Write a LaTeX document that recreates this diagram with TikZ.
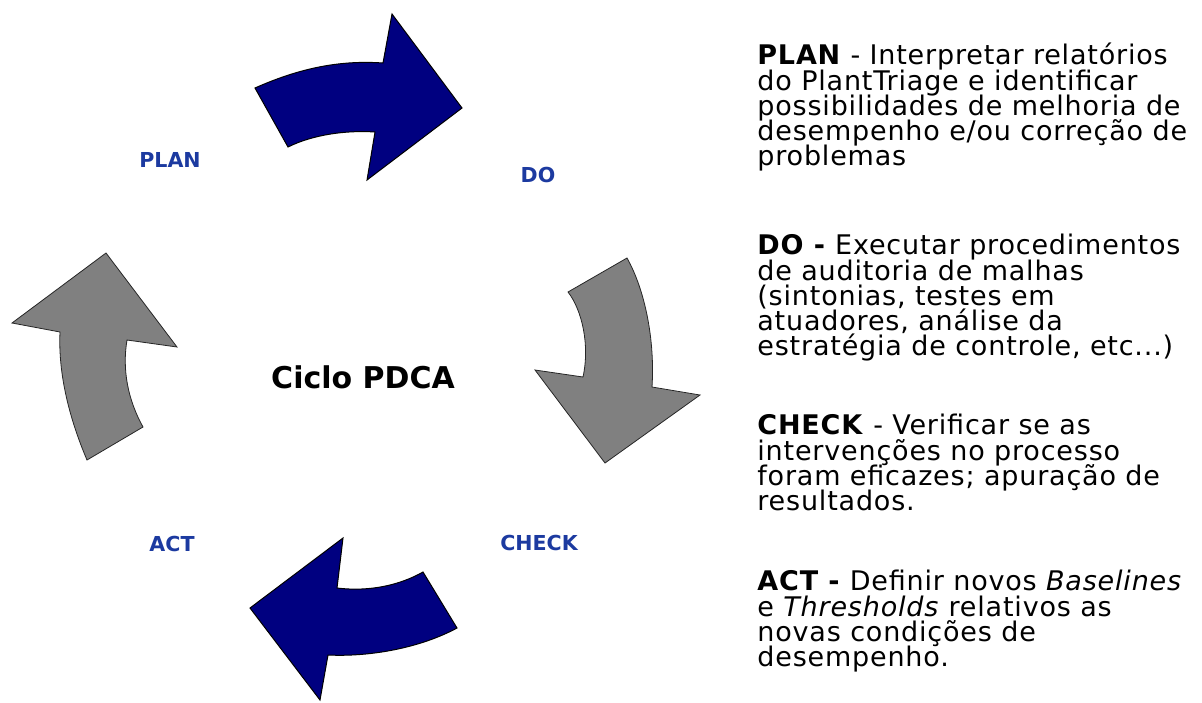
\documentclass[tikz,border=0pt]{standalone}
\usepackage{fontspec}
\setmainfont{DejaVu Sans}
\newfontfamily\descfont{DejaVu Sans}[LetterSpace=3]
\newcommand\fixedlines{\lineskiplimit-20pt\relax\lineskip0pt\relax}
\usetikzlibrary{positioning}

\begin{document}
\begin{tikzpicture}[x=0.5pt, y=-0.5pt, font=\fontsize{12.3}{12.5}\selectfont,
    bluearrow/.style={fill=arrowblue, draw=black, line width=0.5pt},
    grayarrow/.style={fill=arrowgray, draw=black!85, line width=0.4pt},
    phaselabel/.style={text=labelblue, font=\fontsize{10.3}{12}\selectfont\bfseries, inner sep=0pt},
    phasetext/.style={anchor=north west, align=left, inner sep=0pt,
        font=\descfont\fontsize{13.5}{12.6}\selectfont\fixedlines}]
    \definecolor{arrowblue}{RGB}{0, 0, 128}  % Navy
    \definecolor{arrowgray}{RGB}{128, 128, 128} % Gray
    \definecolor{labelblue}{RGB}{28, 58, 160} % Label blue

    \useasboundingbox (0,0) rectangle (1202,702);

    % Arrows of the cycle
    \draw[bluearrow] (255,88) .. controls (300,68) and (340,60) .. (383,63) -- (392,14) -- (462,108)
        -- (367,180) -- (375,132) .. controls (345,130) and (312,135) .. (288,147) -- cycle;
    \draw[grayarrow] (568,292) -- (627,258) .. controls (645,290) and (655,340) .. (652,387)
        -- (700,395) -- (605,463) -- (535,370) -- (583,377) .. controls (590,345) and (582,310) .. (568,292) -- cycle;
    \draw[bluearrow] (250,608) -- (343,538) -- (337,588) .. controls (370,592) and (400,585) .. (423,572)
        -- (457,628) .. controls (420,648) and (370,657) .. (328,655) -- (320,700) -- cycle;
    \draw[grayarrow] (106,253) -- (177,347) -- (127,340) .. controls (122,370) and (128,400) .. (143,427)
        -- (87,460) .. controls (70,420) and (58,375) .. (60,332) -- (12,323) -- cycle;

    % Phase labels
    \node[phaselabel] (plan) at (170,160) {PLAN};
    \node[phaselabel] (do) at (538,175) {DO};
    \node[phaselabel] (check) at (539,543) {CHECK};
    \node[phaselabel] (act) at (172,544) {ACT};

    % Centre
    \node[font=\fontsize{15}{18}\selectfont\bfseries] (cycle) at (363,377) {Ciclo PDCA};

    % Descriptions
    \node[phasetext] (plantxt) at (757,43) {\textbf{PLAN} - Interpretar relatórios\\do PlantTriage e identificar\\possibilidades de melhoria de\\desempenho e/ou correção de\\problemas};
    \node[phasetext] (dotxt) at (757,234) {\textbf{DO -} Executar procedimentos\\de auditoria de malhas\\(sintonias, testes em\\atuadores, análise da\\estratégia de controle, etc...)};
    \node[phasetext] (checktxt) at (757,414) {\textbf{CHECK} - Verificar se as\\intervenções no processo\\foram eficazes; apuração de\\resultados.};
    \node[phasetext] (acttxt) at (757,570) {\textbf{ACT -} Definir novos \textit{Baselines}\\e \textit{Thresholds} relativos as\\novas condições de\\desempenho.};
\end{tikzpicture}
\end{document}
